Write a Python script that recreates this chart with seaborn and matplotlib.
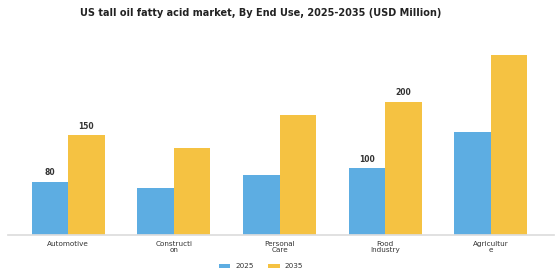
import pandas as pd
import seaborn as sns
import matplotlib.pyplot as plt

categories = ['Automotive', 'Constructi\non', 'Personal\nCare', 'Food\nIndustry', 'Agricultur\ne']
values_2025 = [80, 70, 90, 100, 155]
values_2035 = [150, 130, 180, 200, 270]
years = ['2025', '2035']

df = pd.DataFrame({
    'End Use': categories * 2,
    'Year': [years[0]] * len(categories) + [years[1]] * len(categories),
    'Value': values_2025 + values_2035,
})

sns.set_theme(style='white')
plt.rcParams['font.family'] = ['DejaVu Sans']

fig = plt.figure(figsize=(5.6, 2.8), dpi=100)
ax = fig.add_axes([0.014, 0.161, 0.976, 0.714])

sns.barplot(data=df, x='End Use', y='Value', hue='Year', ax=ax,
            palette=['#5DADE2', '#F5C242'], width=0.69, saturation=1, linewidth=0)

# only some bars carry labels
labelled = {'Automotive', 'Food\nIndustry'}
for container in ax.containers:
    labels = [f'{v:.0f}' if c in labelled else '' for c, v in zip(categories, container.datavalues)]
    ax.bar_label(container, labels=labels, fontsize=5.5, fontweight='bold', padding=3, color='#333333')

ax.set_xlim(-0.57, 4.6)
ax.set_ylim(0, 300)
ax.set_xlabel('')
ax.set_ylabel('')
ax.set_yticks([])
for s in ['top', 'right', 'left']:
    ax.spines[s].set_visible(False)
ax.spines['bottom'].set_color('#dddddd')
ax.tick_params(axis='x', labelsize=5.2, colors='#333333', length=3, pad=1.5)
ax.tick_params(axis='x', color='#999999')
for t in ax.get_xticklabels():
    t.set_linespacing(1.0)

ax.legend(loc='upper center', bbox_to_anchor=(0.463, -0.11), ncol=2, frameon=False,
          fontsize=5.2, handlelength=1.6, handleheight=0.6, handletextpad=0.7,
          columnspacing=2.0, labelcolor='#333333')

fig.suptitle('US tall oil fatty acid market, By End Use, 2025-2035 (USD Million)',
             fontsize=7, fontweight='bold', x=0.466, y=0.97, color='#222222')

fig.savefig('out.png', dpi=100)
